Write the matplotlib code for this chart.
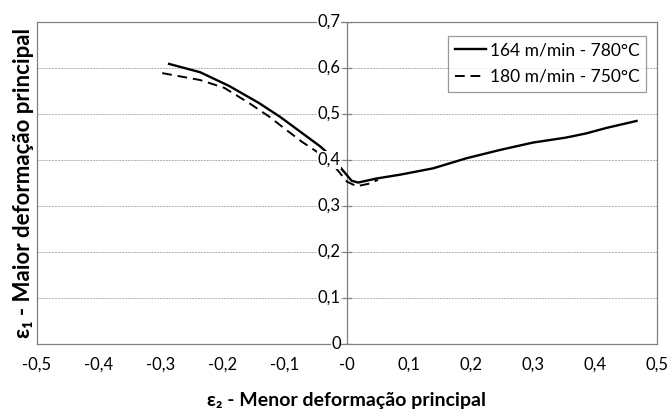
import numpy as np
import matplotlib.pyplot as plt

plt.rcParams['font.family'] = ['Lato', 'DejaVu Sans']

# curva 164 m/min - 780°C (linha cheia)
e2_164 = [-0.287, -0.237, -0.19, -0.142, -0.108, -0.0435, -0.0285, 0.0075, 0.018,
          0.048, 0.085, 0.139, 0.193, 0.247, 0.30, 0.354, 0.386, 0.419, 0.467]
e1_164 = [0.609, 0.591, 0.561, 0.524, 0.494, 0.430, 0.412, 0.355, 0.351,
          0.360, 0.368, 0.382, 0.404, 0.422, 0.438, 0.449, 0.458, 0.470, 0.485]

# curva 180 m/min - 750°C (tracejada)
e2_180 = [-0.298, -0.237, -0.198, -0.158, -0.124, -0.108, -0.073, -0.0285, 0.0,
          0.0156, 0.037, 0.05]
e1_180 = [0.589, 0.574, 0.557, 0.524, 0.493, 0.476, 0.440, 0.400, 0.353,
          0.343, 0.349, 0.357]

xticks = np.round(np.arange(-0.5, 0.51, 0.1), 1)
yticks = np.round(np.arange(0, 0.71, 0.1), 1)

fig = plt.figure(figsize=(6.7, 4.16), dpi=100)
ax = fig.add_axes([0.0552, 0.173, 0.9254, 0.774])

ax.plot(e2_164, e1_164, color='black', lw=1.7, label='164 m/min - 780°C', zorder=3)
ax.plot(e2_180, e1_180, color='black', lw=1.4, ls=(0, (5, 3)), label='180 m/min - 750°C', zorder=3)

ax.set_xlim(-0.5, 0.5)
ax.set_ylim(0, 0.7)

for y in yticks[1:-1]:
    ax.axhline(y, color='#b0b0b0', lw=0.7, ls=(0, (2, 1)), zorder=1)
ax.axvline(0, color='#808080', lw=0.9, zorder=2)
for s in ax.spines.values():
    s.set_color('#808080')
    s.set_linewidth(0.9)

ax.set_xticks(xticks)
ax.set_xticklabels([('%g' % v).replace('.', ',') for v in xticks], fontsize=12)
ax.tick_params(axis='x', length=0, pad=9)
ax.set_yticks([])

for y in yticks:
    ax.plot([-0.007, 0.007], [y, y], color='#808080', lw=0.9, zorder=2)
    ax.text(-0.01, y, ('%g' % y).replace('.', ','), ha='right', va='center', fontsize=12,
            zorder=4, bbox=dict(facecolor='white', edgecolor='none', pad=0.5))

ax.set_xlabel('ε₂ - Menor deformação principal', fontsize=14, fontweight='bold', labelpad=14)
ax.set_ylabel('ε₁ - Maior deformação principal', fontsize=16, fontweight='bold', labelpad=2)

leg = ax.legend(loc='upper right', fontsize=12.5, frameon=True, fancybox=False,
                handlelength=1.8, handletextpad=0.2, borderpad=0.4, labelspacing=0.6,
                bbox_to_anchor=(0.997, 0.985))
leg.get_frame().set_edgecolor('#808080')
leg.get_frame().set_linewidth(0.9)

fig.savefig('out.png', dpi=100)
